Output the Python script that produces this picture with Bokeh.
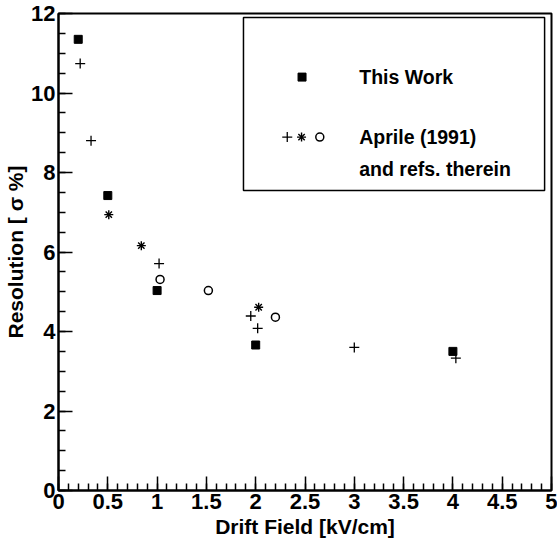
from bokeh.plotting import figure
from bokeh.models import (Range1d, SingleIntervalTicker, CustomJSTickFormatter,
                          BoxAnnotation, Label)
from bokeh.embed import file_html
from bokeh.resources import INLINE

# ---- data ----
this_work_x = [0.2, 0.5, 1.0, 2.0, 4.0]
this_work_y = [11.35, 7.42, 5.03, 3.66, 3.50]

aprile_plus_x = [0.22, 0.33, 1.02, 1.95, 2.02, 3.0, 4.03]
aprile_plus_y = [10.74, 8.80, 5.71, 4.39, 4.08, 3.60, 3.33]

aprile_star_x = [0.51, 0.84, 2.03]
aprile_star_y = [6.94, 6.16, 4.61]

aprile_circle_x = [1.03, 1.52, 2.20]
aprile_circle_y = [5.31, 5.03, 4.36]

legend_labels = ["This Work", "Aprile (1991)", "and refs. therein"]

FONT = "Liberation Sans"

p = figure(width=557, height=546, output_backend="svg", toolbar_location=None,
           x_range=Range1d(0, 5), y_range=Range1d(0, 12),
           min_border_left=58, min_border_right=6, min_border_top=13,
           min_border_bottom=56)
p.background_fill_color = "white"
p.border_fill_color = "white"
p.xgrid.visible = False
p.ygrid.visible = False
p.outline_line_color = "black"
p.outline_line_width = 2
p.outline_line_alpha = 1

fmt = CustomJSTickFormatter(code="return String(Math.round(tick*10)/10)")

p.xaxis.ticker = SingleIntervalTicker(interval=0.5, num_minor_ticks=5)
p.yaxis.ticker = SingleIntervalTicker(interval=2, num_minor_ticks=4)
for ax in (p.xaxis[0], p.yaxis[0]):
    ax.formatter = fmt
    ax.major_tick_in = 14
    ax.major_tick_out = 0
    ax.minor_tick_in = 7
    ax.minor_tick_out = 0
    ax.major_tick_line_width = 1.5
    ax.minor_tick_line_width = 1.5
    ax.axis_line_width = 2
    ax.axis_line_color = "black"
    ax.major_tick_line_color = "black"
    ax.minor_tick_line_color = "black"
    ax.major_label_text_font = FONT
    ax.major_label_text_font_style = "bold"
    ax.major_label_text_font_size = "22px"
    ax.major_label_text_color = "black"
    ax.axis_label_text_font = FONT
    ax.axis_label_text_font_style = "bold"
    ax.axis_label_text_font_size = "21px"
    ax.axis_label_text_color = "black"

p.xaxis.axis_label = "Drift Field [kV/cm]"
p.yaxis.axis_label = "Resolution [ σ %]"
p.xaxis.major_label_standoff = 3
p.yaxis.major_label_standoff = 3
p.xaxis.axis_label_standoff = 3
p.yaxis.axis_label_standoff = 1

# ---- data markers ----
p.scatter(this_work_x, this_work_y, marker="square", size=8,
          fill_color="black", line_color="black")
p.scatter(aprile_plus_x, aprile_plus_y, marker="cross", size=10,
          line_color="black", line_width=1.3)
p.scatter(aprile_star_x, aprile_star_y, marker="cross", size=9,
          line_color="black", line_width=1.4)
p.scatter(aprile_star_x, aprile_star_y, marker="x", size=9,
          line_color="black", line_width=1.4)
p.scatter(aprile_circle_x, aprile_circle_y, marker="circle", size=8,
          fill_color="white", line_color="black", line_width=1.5)

# ---- legend (drawn manually) ----
p.add_layout(BoxAnnotation(left=1.876, right=4.93, bottom=7.55, top=11.9,
                           fill_color=None, fill_alpha=0,
                           line_color="black", line_alpha=1, line_width=1.5))
p.scatter([2.47], [10.40], marker="square", size=8,
          fill_color="black", line_color="black")
p.scatter([2.32], [8.89], marker="cross", size=10, line_color="black", line_width=1.3)
p.scatter([2.465], [8.89], marker="cross", size=9, line_color="black", line_width=1.4)
p.scatter([2.465], [8.89], marker="x", size=9, line_color="black", line_width=1.4)
p.scatter([2.65], [8.89], marker="circle", size=8, fill_color="white",
          line_color="black", line_width=1.5)

for txt, yy in zip(legend_labels, [10.40, 8.90, 8.09]):
    p.add_layout(Label(x=3.05, y=yy, text=txt, text_font=FONT,
                       text_font_style="bold", text_font_size="19.5px",
                       text_baseline="middle", text_color="black"))

open("out.html", "w").write(file_html(p, INLINE))
